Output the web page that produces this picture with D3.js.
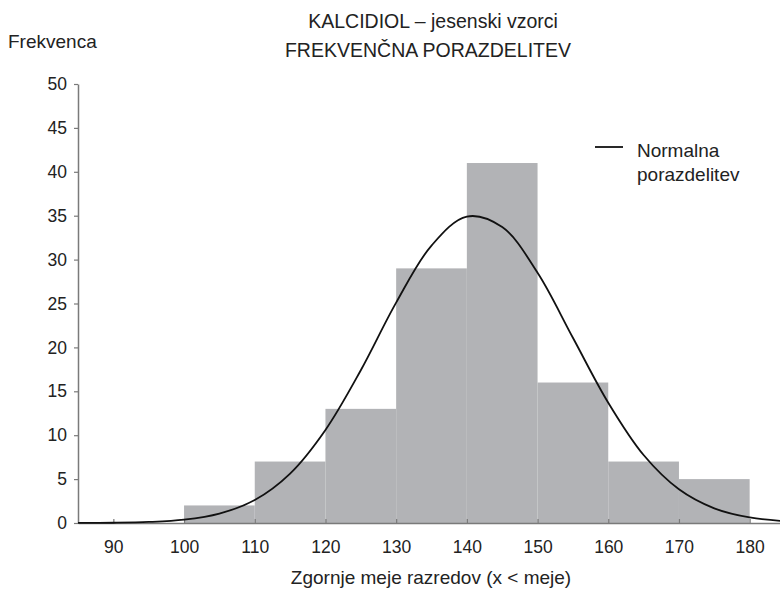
<!DOCTYPE html>
<html>
<head>
<meta charset="utf-8">
<script src="https://cdn.jsdelivr.net/npm/d3@7"></script>
<style>
  body { margin: 0; background: #fff; }
  svg { display: block; font-family: "Liberation Sans", Arial, sans-serif; }
  text { fill: #222; }
</style>
</head>
<body>
<script>
// histogram classes (lower bound) and their frequencies
var binStart = [100, 110, 120, 130, 140, 150, 160, 170];
var binWidth = 10;
var freq = [2, 7, 13, 29, 41, 16, 7, 5];

// fitted normal curve
var curveX = [85, 90, 95, 100, 105, 110, 115, 120, 125, 130, 135, 140, 145, 150, 155, 160, 165, 170, 175, 180, 185];
var curveY = [0.01, 0.03, 0.12, 0.38, 1.07, 2.62, 5.63, 10.6, 17.4, 25.1, 31.6, 34.9, 33.7, 28.5, 21.1, 13.7, 7.74, 3.84, 1.67, 0.63, 0.21];

var xTicks = [90, 100, 110, 120, 130, 140, 150, 160, 170, 180];
var yTicks = [0, 5, 10, 15, 20, 25, 30, 35, 40, 45, 50];

const width = 780;
const height = 595;

var svg = d3.select('body').append('svg')
  .attr('width', width)
  .attr('height', height);

const xScale = d3.scaleLinear().domain([85, 185]).range([78, 785]);
const yScale = d3.scaleLinear().domain([0, 50]).range([523, 84]);

// bars
svg.append('g')
  .selectAll('rect')
  .data(freq)
  .enter()
  .append('rect')
  .attr('x', (d, i) => xScale(binStart[i]))
  .attr('y', d => yScale(d))
  .attr('width', (d, i) => xScale(binStart[i] + binWidth) - xScale(binStart[i]))
  .attr('height', d => yScale(0) - yScale(d))
  .attr('fill', '#b2b3b6');

// axes
const xAxis = d3.axisBottom(xScale)
  .tickValues(xTicks)
  .tickSizeInner(-4)
  .tickSizeOuter(0)
  .tickFormat(d3.format('d'));

var gx = svg.append('g')
  .attr('transform', `translate(0, ${yScale(0)})`)
  .call(xAxis);
gx.select('.domain').attr('stroke', '#7a7a7a').attr('stroke-width', 1.5);
gx.selectAll('.tick line').attr('stroke', '#7a7a7a').attr('stroke-width', 1.2);
gx.selectAll('.tick text')
  .attr('y', 30)
  .attr('dy', 0)
  .style('font-size', '17.5px')
  .style('font-family', '"Liberation Sans", Arial, sans-serif')
  .attr('fill', '#222');

const yAxis = d3.axisLeft(yScale)
  .tickValues(yTicks)
  .tickSizeInner(4)
  .tickSizeOuter(0)
  .tickPadding(7);

var gy = svg.append('g')
  .attr('transform', `translate(${xScale(85)}, 0)`)
  .call(yAxis);
gy.select('.domain').attr('stroke', '#7a7a7a').attr('stroke-width', 1.5);
gy.selectAll('.tick line').attr('stroke', '#7a7a7a').attr('stroke-width', 1.2);
gy.selectAll('.tick text')
  .style('font-size', '17.5px')
  .style('font-family', '"Liberation Sans", Arial, sans-serif')
  .attr('fill', '#222');

// normal curve
var line = d3.line()
  .x((d, i) => xScale(curveX[i]))
  .y(d => yScale(d))
  .curve(d3.curveCatmullRom);

svg.append('path')
  .datum(curveY)
  .attr('d', line)
  .attr('fill', 'none')
  .attr('stroke', '#111')
  .attr('stroke-width', 1.8);

// titles
svg.append('text')
  .attr('x', 433).attr('y', 28)
  .attr('text-anchor', 'middle')
  .style('font-size', '19.5px')
  .text('KALCIDIOL – jesenski vzorci');
svg.append('text')
  .attr('x', 428).attr('y', 57)
  .attr('text-anchor', 'middle')
  .style('font-size', '19.5px')
  .text('FREKVENČNA PORAZDELITEV');

svg.append('text')
  .attr('x', 8).attr('y', 48)
  .style('font-size', '19px')
  .text('Frekvenca');

svg.append('text')
  .attr('x', 431).attr('y', 584)
  .attr('text-anchor', 'middle')
  .style('font-size', '19px')
  .text('Zgornje meje razredov (x < meje)');

// legend
var legend = svg.append('g');
legend.append('line')
  .attr('x1', 595).attr('x2', 623)
  .attr('y1', 147).attr('y2', 147)
  .attr('stroke', '#111')
  .attr('stroke-width', 1.8);
legend.append('text')
  .attr('x', 637).attr('y', 157)
  .style('font-size', '19px')
  .text('Normalna');
legend.append('text')
  .attr('x', 637).attr('y', 181)
  .style('font-size', '19px')
  .text('porazdelitev');
</script>
</body>
</html>
